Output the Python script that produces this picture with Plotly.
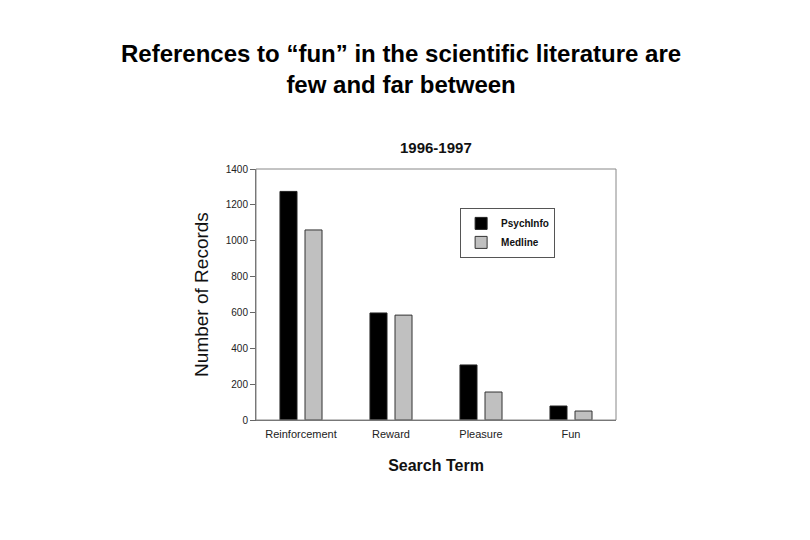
import plotly.graph_objects as go

categories = ["Reinforcement", "Reward", "Pleasure", "Fun"]
psychinfo = [1275, 597, 307, 78]
medline = [1060, 585, 156, 50]
y_ticks = [0, 200, 400, 600, 800, 1000, 1200, 1400]

FONT = "Liberation Sans, Arial, sans-serif"

fig = go.Figure()
fig.add_trace(go.Bar(x=categories, y=psychinfo, name="<b>PsychInfo</b>",
                     marker=dict(color="#000000", line=dict(color="#222222", width=1))))
fig.add_trace(go.Bar(x=categories, y=medline, name="<b>Medline</b>",
                     marker=dict(color="#c0c0c0", line=dict(color="#333333", width=1))))

fig.update_layout(
    width=810, height=540,
    margin=dict(l=248, r=202, t=161, b=128),
    paper_bgcolor="white", plot_bgcolor="white",
    barmode="group", bargap=0.444, bargroupgap=0.32,
    font=dict(family=FONT, color="#222222"),
    showlegend=True,
    legend=dict(x=0.567, y=0.845, xanchor="left", yanchor="top",
                bordercolor="#555555", borderwidth=1, bgcolor="white",
                font=dict(size=10, color="#111111"),
                itemwidth=30, tracegroupgap=0),
    xaxis=dict(showline=True, linecolor="#666666", linewidth=1,
               ticks="outside", ticklen=4, tickcolor="rgba(0,0,0,0)",
               tickfont=dict(size=11, color="#222222"),
               title=dict(text="<b>Search Term</b>", font=dict(size=16, color="#111111"), standoff=20)),
    yaxis=dict(range=[0, 1400], tickvals=y_ticks, showgrid=False, zeroline=False,
               showline=True, linecolor="#666666", linewidth=1,
               ticks="outside", ticklen=5, tickcolor="#666666",
               tickfont=dict(size=10, color="#222222"),
               title=dict(text="Number of Records", font=dict(size=19, color="#111111"), standoff=12)),
    shapes=[dict(type="rect", xref="paper", yref="paper", x0=0, y0=0, x1=1, y1=1,
                 line=dict(color="#888888", width=1), layer="above")],
    annotations=[
        dict(text="<b>References to “fun” in the scientific literature are<br>few and far between</b>",
             xref="paper", yref="paper", x=(401 - 256) / 360, y=1.0, yshift=69,
             xanchor="center", yanchor="bottom", showarrow=False,
             font=dict(size=24, color="#000000")),
        dict(text="<b>1996-1997</b>", xref="paper", yref="paper", x=0.5, y=1.0,
             yshift=11, xanchor="center", yanchor="bottom", showarrow=False,
             font=dict(size=15, color="#111111")),
    ],
)

fig.write_html("out.html")
